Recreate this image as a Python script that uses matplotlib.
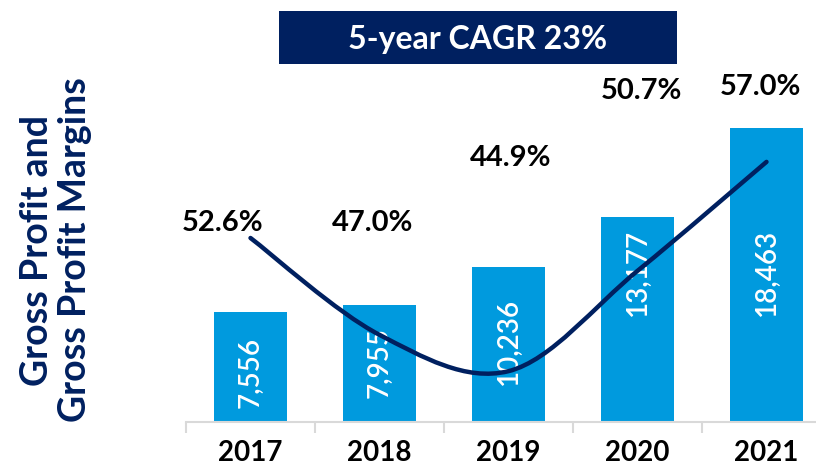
import matplotlib.pyplot as plt
from matplotlib.path import Path
from matplotlib.patches import PathPatch, Rectangle
from matplotlib.transforms import blended_transform_factory

# data
years = ['2017', '2018', '2019', '2020', '2021']
gross_profit = [7556, 7955, 10236, 13177, 18463]
margins = [52.6, 47.0, 44.9, 50.7, 57.0]
title_text = '5-year CAGR 23%'
ylabel_text = 'Gross Profit and\nGross Profit Margins'

# colours
navy = '#002060'
bar_blue = '#009ADE'
axis_grey = '#D9D9D9'

plt.rcParams['font.family'] = ['Lato', 'DejaVu Sans']

fig = plt.figure(figsize=(8.16, 4.66), dpi=100)
ax = fig.add_axes([186 / 816, 44 / 466, 645 / 816, 422 / 466])
ax2 = ax.twinx()

x = list(range(len(years)))
ax.bar(x, gross_profit, width=0.57, color=bar_blue, zorder=2)
ax.set_xlim(-0.5, 4.5)
ax.set_ylim(1036, 26050)
ax2.set_ylim(41.96, 66.36)

# smooth line through the margin points (bezier, catmull-rom tangents)
pts = list(zip(x, margins))
verts = [pts[0]]
codes = [Path.MOVETO]
for i in range(len(pts) - 1):
    p0 = pts[i - 1] if i > 0 else pts[i]
    p1 = pts[i]
    p2 = pts[i + 1]
    p3 = pts[i + 2] if i + 2 < len(pts) else pts[i + 1]
    c1 = (p1[0] + (p2[0] - p0[0]) / 6, p1[1] + (p2[1] - p0[1]) / 6)
    c2 = (p2[0] - (p3[0] - p1[0]) / 6, p2[1] - (p3[1] - p1[1]) / 6)
    verts += [c1, c2, p2]
    codes += [Path.CURVE4] * 3
ax2.add_patch(PathPatch(Path(verts, codes), facecolor='none', edgecolor=navy,
                        lw=3.2, capstyle='round', zorder=3))

# value labels inside bars
label_frac = [0.45, 0.51, 0.52, 0.73, 0.51]
y0 = ax.get_ylim()[0]
for xi, v, f in zip(x, gross_profit, label_frac):
    ax.text(xi, y0 + (v - y0) * f, f'{v:,}', rotation=90, ha='center', va='center',
            color='white', fontsize=20, fontweight='semibold', zorder=2.5)

# margin labels
m_dx = [-0.22, -0.05, 0.02, 0.03, -0.05]
m_y = [0.5215, 0.5215, 0.661, 0.805, 0.813]
tr = blended_transform_factory(ax.transData, fig.transFigure)
for xi, m, dx, yy in zip(x, margins, m_dx, m_y):
    ax.text(xi + dx, yy, f'{m:.1f}%', transform=tr, ha='center', va='center',
            fontsize=21, fontweight='bold', color='black')

# year labels
for xi, yr in zip(x, years):
    ax.text(xi, 1 - 453 / 466, yr, transform=tr, ha='center', va='center',
            fontsize=20, fontweight='bold')

# axes styling
for a in (ax, ax2):
    for s in ['top', 'right', 'left', 'bottom']:
        a.spines[s].set_visible(False)
    a.set_yticks([])
ax.spines['bottom'].set_visible(True)
ax.spines['bottom'].set_color(axis_grey)
ax.spines['bottom'].set_linewidth(1.5)
ax.set_xticks([i - 0.5 for i in range(len(years) + 1)])
ax.set_xticklabels([])
ax.tick_params(axis='x', length=8, width=1.5, color=axis_grey)

# y label
fig.text(56 / 816, 1 - 250 / 466, ylabel_text, rotation=90, ha='center', va='center',
         multialignment='center', fontsize=27, fontweight='bold', color=navy, linespacing=1.12)

# CAGR box
fig.patches.append(Rectangle((279 / 816, 1 - 64 / 466), 398 / 816, 53 / 466,
                             transform=fig.transFigure, facecolor=navy, edgecolor='none'))
fig.text(478 / 816, 1 - 39 / 466, title_text, ha='center', va='center',
         fontsize=23, fontweight='bold', color='white')

fig.savefig('out.png', dpi=100)
